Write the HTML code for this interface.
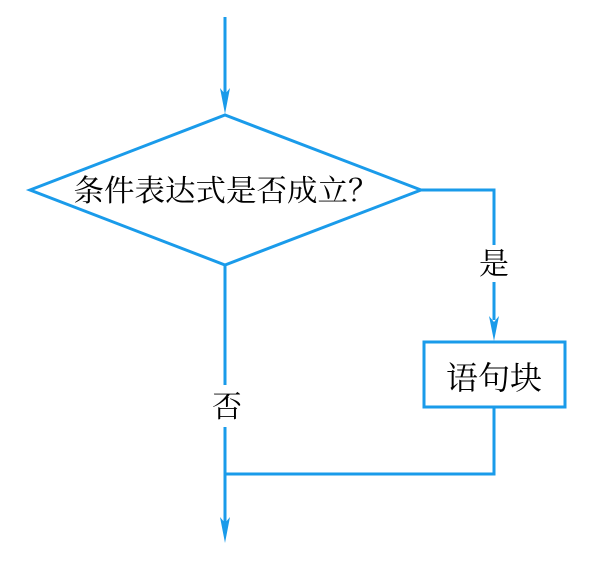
<!DOCTYPE html>
<html><head><meta charset="utf-8"><style>html,body{margin:0;padding:0;background:#fff;}svg{display:block}</style></head>
<body>
<svg width="608" height="568" viewBox="0 0 608 568" xmlns="http://www.w3.org/2000/svg">
<g stroke="#1a9bea" stroke-width="3" fill="none">
<line x1="225" y1="17" x2="225" y2="100"/>
<polygon points="30,190 225,115 421,190 225,265"/>
<polyline points="421,190 494,190 494,245"/>
<line x1="494" y1="282" x2="494" y2="320"/>
<rect x="424" y="342" width="141" height="65"/>
<line x1="225" y1="265" x2="225" y2="385"/>
<line x1="225" y1="427" x2="225" y2="525"/>
<polyline points="494,407 494,474 225,474"/>
</g>
<g fill="#1a9bea">
<polygon points="220,88 225,114 230,88 225,94"/>
<polygon points="489,316 494,341 499,316 494,322"/>
<polygon points="220,517 225,543 230,517 225,523"/>
</g>
<g font-family="'Noto Serif CJK SC',serif" fill="#000" text-anchor="middle">
<text x="226" y="201" font-size="30" textLength="305" lengthAdjust="spacingAndGlyphs">条件表达式是否成立？</text>
<text x="494" y="274" font-size="30">是</text>
<text x="494" y="389" font-size="32">语句块</text>
<text x="227" y="417" font-size="30">否</text>
</g>
</svg>
</body></html>
